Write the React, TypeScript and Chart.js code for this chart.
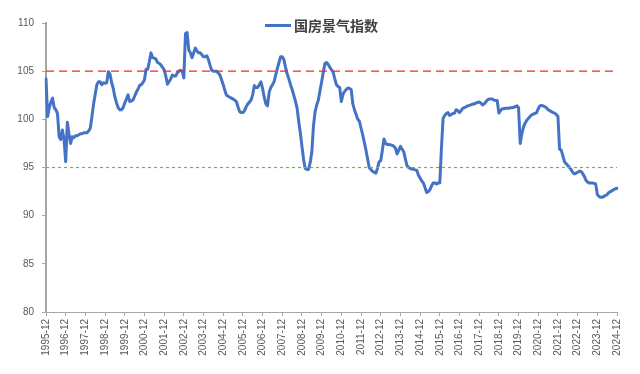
import React, { useEffect, useRef } from "react";
import { Chart, registerables } from "chart.js";

Chart.register(...registerables);

// Category labels: monthly from 1995-12 to 2024-12
const startYear = 1995;
const endYear = 2024;
const monthLabels: string[] = ["1995-12"];
for (let y = startYear + 1; y <= endYear; y++) {
  for (let m = 1; m <= 12; m++) {
    monthLabels.push(`${y}-${m < 10 ? "0" + m : m}`);
  }
}

const seriesName = "国房景气指数";

// 国房景气指数 monthly values (first value 1995-12, then Jan..Dec of each year)
const indexValues: number[] = [
  104.2,
  100.3, 101.2, 101.8, 102.2, 101.2, 101.0, 100.6, 98.2, 97.9, 98.9, 97.9, 95.6, // 1996
  99.7, 98.5, 97.5, 98.2, 98.1, 98.3, 98.3, 98.4, 98.5, 98.5, 98.6, 98.6, // 1997
  98.6, 98.8, 99.1, 100.3, 101.6, 102.6, 103.6, 103.9, 103.9, 103.6, 103.8, 103.75, // 1998
  103.8, 104.95, 104.7, 103.8, 103.2, 102.3, 101.7, 101.2, 101.0, 101.0, 101.2, 101.7, // 1999
  102.1, 102.55, 101.85, 101.9, 102.0, 102.4, 102.8, 103.1, 103.5, 103.6, 103.8, 104.1, // 2000
  105.2, 105.2, 106.0, 106.9, 106.4, 106.35, 106.25, 105.9, 105.8, 105.65, 105.4, 105.15, // 2001
  104.5, 103.65, 103.9, 104.2, 104.6, 104.5, 104.5, 104.8, 105.0, 105.1, 105.0, 104.3, // 2002
  108.9, 109.0, 107.2, 106.9, 106.4, 106.9, 107.4, 107.1, 106.9, 106.9, 106.7, 106.5, // 2003
  106.5, 106.6, 106.2, 105.6, 105.1, 105.0, 105.0, 105.0, 104.8, 104.6, 104.1, 103.6, // 2004
  103.0, 102.5, 102.4, 102.3, 102.2, 102.1, 102.0, 101.85, 101.3, 100.8, 100.7, 100.7, // 2005
  100.9, 101.3, 101.6, 101.8, 102.0, 102.6, 103.5, 103.3, 103.3, 103.6, 103.9, 103.2, // 2006
  102.3, 101.6, 101.4, 102.8, 103.3, 103.6, 103.9, 104.6, 105.3, 105.9, 106.5, 106.5, // 2007
  106.2, 105.4, 104.7, 104.2, 103.6, 103.1, 102.5, 101.9, 101.2, 99.8, 98.6, 97.2, // 2008
  95.8, 94.9, 94.8, 94.8, 95.5, 96.6, 99.3, 100.8, 101.5, 102.0, 103.0, 103.9, // 2009
  104.9, 105.8, 105.9, 105.7, 105.4, 105.15, 104.9, 104.2, 103.6, 103.4, 103.3, 101.85, // 2010
  102.6, 102.9, 103.1, 103.25, 103.2, 103.1, 101.6, 101.0, 100.5, 100.0, 99.8, 99.1, // 2011
  98.4, 97.6, 96.8, 95.9, 95.0, 94.8, 94.6, 94.5, 94.4, 94.9, 95.6, 95.7, // 2012
  96.8, 97.95, 97.5, 97.4, 97.4, 97.35, 97.3, 97.2, 97.0, 96.4, 96.8, 97.2, // 2013
  96.9, 96.65, 95.9, 95.2, 95.0, 94.9, 94.85, 94.8, 94.75, 94.7, 94.2, 93.9, // 2014
  93.6, 93.4, 92.9, 92.4, 92.5, 92.7, 93.1, 93.4, 93.4, 93.3, 93.4, 93.4, // 2015
  97.0, 100.1, 100.4, 100.6, 100.7, 100.4, 100.5, 100.6, 100.65, 101.0, 100.9, 100.7, // 2016
  100.9, 101.15, 101.2, 101.3, 101.4, 101.45, 101.5, 101.6, 101.6, 101.7, 101.75, 101.8, // 2017
  101.7, 101.5, 101.6, 101.8, 102.0, 102.1, 102.1, 102.1, 102.0, 101.95, 101.95, 100.65, // 2018
  100.9, 101.1, 101.1, 101.15, 101.15, 101.15, 101.2, 101.2, 101.25, 101.3, 101.4, 101.2, // 2019
  97.5, 98.5, 99.2, 99.6, 99.9, 100.1, 100.3, 100.45, 100.55, 100.6, 100.7, 101.1, // 2020
  101.4, 101.45, 101.4, 101.3, 101.2, 101.0, 100.9, 100.8, 100.7, 100.65, 100.5, 100.3, // 2021
  96.9, 96.8, 96.2, 95.6, 95.4, 95.2, 95.0, 94.8, 94.5, 94.35, 94.4, 94.5, // 2022
  94.6, 94.6, 94.4, 94.1, 93.7, 93.5, 93.4, 93.4, 93.4, 93.35, 93.3, 92.2, // 2023
  92.0, 91.9, 91.9, 92.0, 92.1, 92.2, 92.4, 92.5, 92.6, 92.7, 92.8, 92.85, // 2024
];

// Reference levels
const upperLevel = 105;
const lowerLevel = 95;

// Y-axis range
const yMin = 80;
const yMax = 110;
const yStep = 5;

const refLinesPlugin = {
  id: "refLines",
  afterDatasetsDraw(chart: any) {
    const { ctx, chartArea, scales } = chart;
    const draw = (v: number, color: string, dash: number[], w: number) => {
      const y = scales.y.getPixelForValue(v);
      ctx.save();
      ctx.strokeStyle = color;
      ctx.lineWidth = w;
      ctx.setLineDash(dash);
      ctx.beginPath();
      ctx.moveTo(chartArea.left, y);
      ctx.lineTo(chartArea.right, y);
      ctx.stroke();
      ctx.restore();
    };
    draw(upperLevel, "#ee2a2a", [8, 5], 1.4);
    draw(lowerLevel, "#6cb84a", [3, 3], 1.2);
  },
  afterDraw(chart: any) {
    const { ctx } = chart;
    ctx.save();
    ctx.strokeStyle = "#4472C4";
    ctx.lineWidth = 3;
    ctx.beginPath();
    ctx.moveTo(265, 25.5);
    ctx.lineTo(291, 25.5);
    ctx.stroke();
    ctx.fillStyle = "#404040";
    ctx.font = 'bold 14px "Noto Sans CJK SC"';
    ctx.textBaseline = "middle";
    ctx.textAlign = "left";
    ctx.fillText(seriesName, 294, 26);
    ctx.restore();
  },
};

export default function App() {
  const ref = useRef<HTMLCanvasElement | null>(null);
  useEffect(() => {
    if (!ref.current) return;
    const chart = new Chart(ref.current, {
      type: "line",
      data: {
        labels: monthLabels,
        datasets: [
          {
            label: seriesName,
            data: indexValues,
            borderColor: "#4472C4",
            borderWidth: 3,
            borderJoinStyle: "round",
            borderCapStyle: "round",
            pointRadius: 0,
            tension: 0,
            fill: false,
          },
        ],
      },
      options: {
        animation: false,
        responsive: false,
        maintainAspectRatio: false,
        layout: { padding: { top: 23, right: 23, left: 0, bottom: 0 } },
        plugins: {
          legend: { display: false },
          tooltip: { enabled: false },
        },
        scales: {
          x: {
            type: "category",
            offset: false,
            afterFit: (s: any) => {
              s.height = 62;
            },
            border: { display: true, color: "#a6a6a6", width: 1 },
            grid: {
              display: true,
              drawOnChartArea: false,
              drawTicks: true,
              tickLength: 4,
              color: "#a6a6a6",
              lineWidth: (c: any) => (c.index % 12 === 0 ? 1 : 0),
            },
            ticks: {
              autoSkip: false,
              minRotation: 90,
              maxRotation: 90,
              padding: 3,
              color: "#595959",
              font: { family: '"Liberation Sans", Arial', size: 10 },
              callback: (_v: any, i: number) =>
                i % 12 === 0 ? monthLabels[i] : "",
            },
          },
          y: {
            min: yMin,
            max: yMax,
            afterFit: (s: any) => {
              s.width = 46;
            },
            border: { display: true, color: "#a6a6a6", width: 2 },
            grid: {
              display: true,
              drawOnChartArea: false,
              drawTicks: true,
              tickLength: 4,
              color: "#a6a6a6",
            },
            ticks: {
              stepSize: yStep,
              padding: 8,
              color: "#595959",
              font: { family: '"Liberation Sans", Arial', size: 10 },
            },
          },
        },
      },
      plugins: [refLinesPlugin],
    });
    return () => chart.destroy();
  }, []);
  return (
    <div style={{ position: "fixed", left: 0, top: 0, width: 640, height: 374, background: "#fff" }}>
      <canvas ref={ref} width={640} height={374} />
    </div>
  );
}
